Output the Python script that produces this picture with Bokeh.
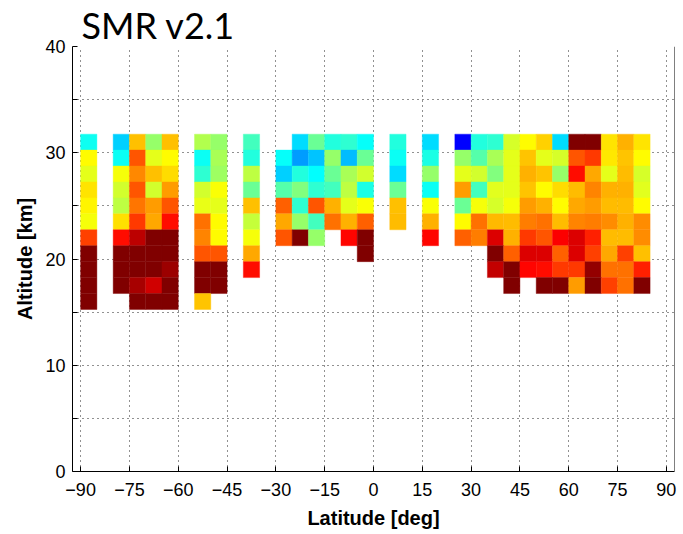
from bokeh.plotting import figure
from bokeh.models import Range1d, FixedTicker, ColumnDataSource, LinearColorMapper, Span
from bokeh.embed import file_html
from bokeh.resources import INLINE

N = None
# Latitude bin centres (deg)
lat_centers = [-87.5, -82.5, -77.5, -72.5, -67.5, -62.5, -57.5, -52.5, -47.5, -42.5,
               -37.5, -32.5, -27.5, -22.5, -17.5, -12.5, -7.5, -2.5, 2.5, 7.5,
               12.5, 17.5, 22.5, 27.5, 32.5, 37.5, 42.5, 47.5, 52.5, 57.5,
               62.5, 67.5, 72.5, 77.5, 82.5, 87.5]
# Altitude bin centres (km), top to bottom
alt_centers = [31.0, 29.5, 28.0, 26.5, 25.0, 23.5, 22.0, 20.5, 19.0, 17.5, 16.0]

# Colour-scale values (0..1 on jet) per altitude row, one entry per latitude bin
z_31_0 = [0.39, N, 0.33, 0.685, 0.52, 0.685, N, 0.55, 0.52, N, 0.44, N, N, 0.34, 0.48, 0.41, 0.42, 0.38,
          N, 0.41, N, 0.34, N, 0.125, 0.41, 0.42, 0.585, 0.625, 0.67, 0.34, 1.0, 1.0, 0.65, 0.7, 0.65, N]
z_29_5 = [0.625, N, 0.385, 0.79, 0.6, 0.625, N, 0.385, 0.54, N, 0.41, N, 0.38, 0.28, 0.32, 0.52, 0.31, 0.48,
          N, 0.385, N, 0.4, N, 0.52, 0.46, 0.54, 0.6, 0.68, 0.6, 0.585, 0.79, 0.82, 0.645, 0.68, 0.625, N]
z_28_0 = [0.6, N, 0.615, 0.74, 0.685, 0.66, N, 0.42, 0.53, N, 0.56, N, 0.33, 0.41, 0.375, 0.48, 0.54, 0.58,
          N, 0.34, N, 0.52, N, 0.6, 0.58, 0.5, 0.6, 0.7, 0.68, 0.52, 0.86, 0.71, 0.6, 0.69, 0.585, N]
z_26_5 = [0.65, N, 0.58, 0.79, 0.58, 0.72, N, 0.58, 0.62, N, 0.48, N, 0.46, 0.5, 0.42, 0.44, 0.56, 0.4,
          N, 0.48, N, 0.385, N, 0.72, 0.44, 0.595, 0.6, 0.68, 0.625, 0.66, 0.69, 0.745, 0.7, 0.7, 0.595, N]
z_25_0 = [0.635, N, 0.56, 0.76, 0.72, 0.79, N, 0.605, 0.6, N, 0.685, N, 0.78, 0.42, 0.79, 0.7, 0.6, 0.62,
          N, 0.685, N, 0.62, N, 0.48, 0.615, 0.585, 0.615, 0.72, 0.7, 0.625, 0.71, 0.72, 0.69, 0.69, 0.625, N]
z_23_5 = [0.615, N, 0.655, 0.82, 0.71, 0.86, N, 0.765, 0.625, N, 0.57, N, 0.71, 0.52, 0.44, 0.765, 0.7, 0.78,
          N, 0.69, N, 0.7, N, 0.625, 0.765, 0.695, 0.69, 0.75, 0.765, 0.69, 0.745, 0.75, 0.735, 0.7, 0.735, N]
z_22_0 = [0.81, N, 0.86, 0.94, 1.0, 1.0, N, 0.745, 0.625, N, 0.615, N, 0.79, 1.0, 0.52, N, 0.87, 1.0,
          N, N, N, 0.87, N, 0.78, 0.75, 0.91, 0.7, 0.82, 0.79, 0.875, 0.91, 0.84, 0.69, 0.69, 0.735, N]
z_20_5 = [1.0, N, 1.0, 1.0, 1.0, 1.0, N, 0.79, 0.79, N, 0.71, N, N, N, N, N, N, 1.0,
          N, N, N, N, N, N, N, 1.0, 0.78, 0.91, 0.91, 0.78, 0.91, 0.81, 0.71, 0.81, 0.685, N]
z_19_0 = [1.0, N, 1.0, 1.0, 1.0, 0.97, N, 1.0, 1.0, N, 0.86, N, N, N, N, N, N, N,
          N, N, N, N, N, N, N, 0.93, 1.0, 0.87, 0.86, 0.82, 0.82, 0.98, 0.765, 0.765, 0.84, N]
z_17_5 = [1.0, N, 1.0, 0.96, 0.92, 1.0, N, 1.0, 1.0, N, N, N, N, N, N, N, N, N,
          N, N, N, N, N, N, N, N, 1.0, N, 1.0, 1.0, 0.72, 1.0, 0.81, 0.765, 1.0, N]
z_16_0 = [1.0, N, N, 1.0, 1.0, 1.0, N, 0.68, N, N, N, N, N, N, N, N, N, N,
          N, N, N, N, N, N, N, N, N, N, N, N, N, N, N, N, N, N]

rows = [z_31_0, z_29_5, z_28_0, z_26_5, z_25_0, z_23_5, z_22_0, z_20_5, z_19_0, z_17_5, z_16_0]

x_ticks = [-90, -75, -60, -45, -30, -15, 0, 15, 30, 45, 60, 75, 90]
y_ticks = [0, 10, 20, 30, 40]
y_minor = [5, 15, 25, 35]


def jet(t):
    r = min(max(1.5 - abs(4 * t - 3), 0), 1)
    g = min(max(1.5 - abs(4 * t - 2), 0), 1)
    b = min(max(1.5 - abs(4 * t - 1), 0), 1)
    return "#%02x%02x%02x" % (round(r * 255), round(g * 255), round(b * 255))


palette = [jet(i / 255) for i in range(256)]
mapper = LinearColorMapper(palette=palette, low=0, high=1)

xs, ys, vs = [], [], []
for alt, row in zip(alt_centers, rows):
    for lat, v in zip(lat_centers, row):
        if v is not None:
            xs.append(lat)
            ys.append(alt)
            vs.append(v)
src = ColumnDataSource(dict(x=xs, y=ys, v=vs))

p = figure(width=683, height=534, x_range=Range1d(-92.5, 92.5), y_range=Range1d(0, 40),
           output_backend="svg", toolbar_location=None, title="SMR v2.1",
           min_border_left=72, min_border_right=9, min_border_top=44, min_border_bottom=63)
p.outline_line_color = None
p.background_fill_color = "white"
p.border_fill_color = "white"

p.title.text_font = "Lato"
p.title.text_font_size = "36px"
p.title.text_font_style = "normal"
p.title.text_color = "black"
p.title.align = "left"
p.title.offset = 9
p.title.standoff = 0

p.rect(x="x", y="y", width=5, height=1.5, source=src,
       fill_color={"field": "v", "transform": mapper},
       line_color={"field": "v", "transform": mapper}, line_width=0.4)

FONT = "Liberation Sans"

xt = FixedTicker(ticks=x_ticks)
yt = FixedTicker(ticks=y_ticks, minor_ticks=y_minor)

for ax in p.xaxis:
    ax.ticker = xt
    ax.major_tick_in = 5
    ax.major_tick_out = 0
    ax.minor_tick_in = 0
    ax.minor_tick_out = 0
    ax.major_label_standoff = 11
    ax.major_label_text_font = FONT
    ax.major_label_text_font_size = "18px"
    ax.major_label_text_color = "black"
    ax.axis_line_color = "black"
    ax.major_tick_line_color = "black"
    ax.axis_label = "Latitude [deg]"
    ax.axis_label_text_font = FONT
    ax.axis_label_text_font_size = "20px"
    ax.axis_label_text_font_style = "bold"
    ax.axis_label_text_color = "black"
    ax.axis_label_standoff = 8

for ax in p.yaxis:
    ax.ticker = yt
    ax.major_tick_in = 5
    ax.major_tick_out = 0
    ax.minor_tick_in = 5
    ax.minor_tick_out = 0
    ax.major_label_standoff = 7
    ax.major_label_text_font = FONT
    ax.major_label_text_font_size = "18px"
    ax.major_label_text_color = "black"
    ax.axis_line_color = "black"
    ax.major_tick_line_color = "black"
    ax.minor_tick_line_color = "black"
    ax.axis_label = "Altitude [km]"
    ax.axis_label_text_font = FONT
    ax.axis_label_text_font_size = "20px"
    ax.axis_label_text_font_style = "bold"
    ax.axis_label_text_color = "black"
    ax.axis_label_standoff = 6

# right side of the box
p.add_layout(Span(location=92.5, dimension="height", line_color="black", line_width=1))

p.xgrid.ticker = xt
p.ygrid.ticker = yt
for g in (p.xgrid, p.ygrid):
    g.grid_line_color = "#222222"
    g.grid_line_dash = "1 4"
    g.grid_line_width = 1
p.ygrid.minor_grid_line_color = "#222222"
p.ygrid.minor_grid_line_dash = "1 4"

open("out.html", "w").write(file_html(p, INLINE))
